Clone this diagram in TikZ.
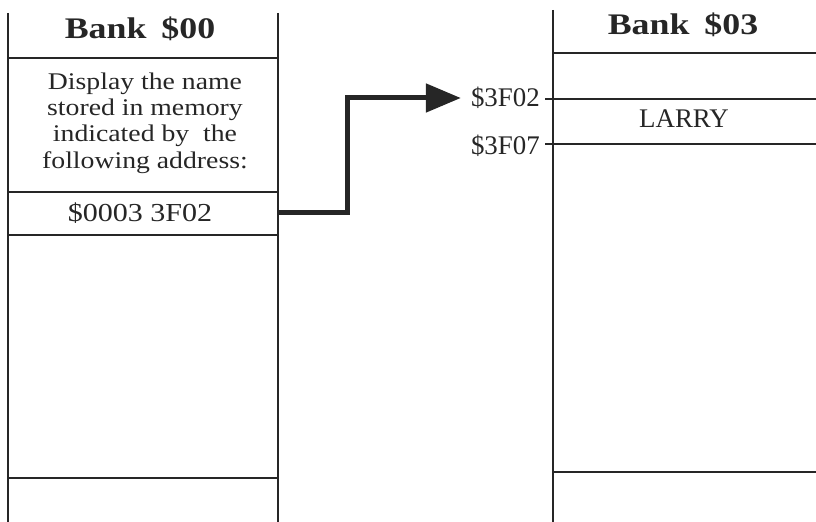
\documentclass[tikz,border=0pt]{standalone}
\usepackage{fontspec}
\setmainfont{Liberation Serif}
\newfontfamily\widefont{Liberation Serif}[FakeStretch=1.16]
\newfontfamily\titlefont{Liberation Serif}[FakeStretch=1.2]
\definecolor{inkgray}{RGB}{38,38,38}
\usetikzlibrary{arrows.meta,positioning}

\tikzset{
  banktitle/.style={font=\titlefont\bfseries\fontsize{30}{32}\selectfont, inner sep=0pt},
  celltext/.style={font=\widefont\fontsize{24}{26.3}\selectfont, align=center, inner sep=0pt},
  addrlbl/.style={font=\fontsize{27}{29}\selectfont, inner sep=2bp, anchor=east},
  bankline/.style={line width=2.4bp, inkgray},
  jumparrow/.style={line width=5bp, inkgray, -{Triangle[length=35bp, width=28bp]}}
}

\begin{document}
\begin{tikzpicture}[x=1bp, y=-1bp, color=inkgray]
  \useasboundingbox (0,0) rectangle (816,522);

  %--- Bank $00 ---
  \draw[bankline] (8,13) -- (8,522);
  \draw[bankline] (278,13) -- (278,522);
  \foreach \y in {58,192,235,478}
    \draw[bankline] (8,\y) -- (278,\y);

  \node[banktitle] (bank00) at (140,29) {Bank\hspace{0.5em}\$00};
  \node[celltext] (msg) at (145,123) {Display the name\\stored in memory\\indicated by\ \ the\\following address:};
  \node[celltext, font=\widefont\fontsize{26}{28}\selectfont, minimum width=276bp, minimum height=43bp] (addr) at (140,213) {\$0003 3F02};

  %--- Bank $03 ---
  \draw[bankline] (553,10) -- (553,522);
  \draw[bankline] (553,53) -- (816,53);
  \draw[bankline] (545,99) -- (816,99);
  \draw[bankline] (545,144) -- (816,144);
  \draw[bankline] (553,472) -- (816,472);

  \node[banktitle] (bank03) at (683,25) {Bank\hspace{0.5em}\$03};
  \node[celltext, font=\fontsize{27}{29}\selectfont] (larry) at (684,119) {LARRY};
  \node[addrlbl] (f02) at (542,98) {\$3F02};
  \node[addrlbl] (f07) at (542,146) {\$3F07};

  % long address points into bank $03
  \draw[jumparrow] (addr.east) -- ++(69,0) |- ([xshift=-8bp]f02.west);
\end{tikzpicture}
\end{document}
